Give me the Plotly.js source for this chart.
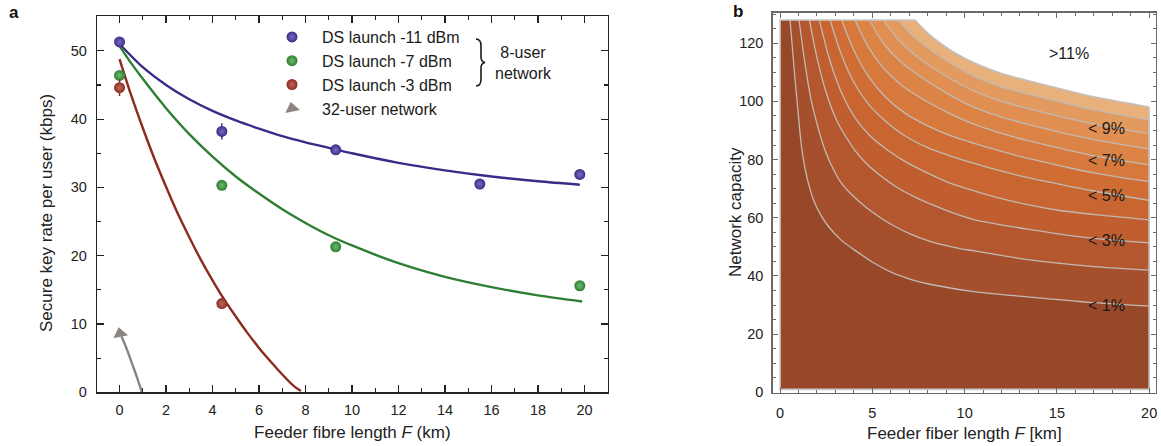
<!DOCTYPE html>
<html>
<head>
<meta charset="utf-8">
<script src="https://cdn.plot.ly/plotly-3.0.1.min.js"></script>
<style>
  html, body { margin: 0; padding: 0; background: #ffffff; }
  #chart { width: 1161px; height: 446px; }
</style>
</head>
<body>
<div id="chart"></div>
<script>
// ---------------- Panel a data ----------------
const blueF = [0, 4.4, 9.3, 15.5, 19.8];
const blueRate = [51.3, 38.2, 35.5, 30.5, 31.9];
const blueErr = [0.3, 1.2, 0.3, 0.3, 0.3];

const greenF = [0, 4.4, 9.3, 19.8];
const greenRate = [46.4, 30.3, 21.3, 15.6];
const greenErr = [0.4, 0.3, 0.3, 0.3];

const redF = [0, 4.4];
const redRate = [44.6, 13.0];
const redErr = [1.2, 0.4];

const blueFitF = [0, 1, 2, 3, 4, 5, 6, 7, 8, 9, 10, 12, 14, 16, 18, 19.8];
const blueFitRate = [51.0, 47.6, 45.0, 42.9, 41.2, 39.8, 38.6, 37.5, 36.6, 35.8, 35.0, 33.6, 32.5, 31.6, 30.9, 30.4];

const greenFitF = [0, 0.5, 1, 1.5, 2, 3, 4, 5, 6, 7, 8, 9, 10, 12, 14, 16, 18, 19.9];
const greenFitRate = [50.7, 48.2, 45.9, 43.7, 41.6, 37.8, 34.5, 31.6, 29.1, 26.8, 24.8, 23.0, 21.5, 18.9, 16.9, 15.4, 14.2, 13.3];

const redFitF = [0, 0.5, 1, 1.5, 2, 2.5, 3, 3.5, 4, 4.5, 5, 5.5, 6, 6.5, 7, 7.5, 7.8];
const redFitRate = [48.8, 43.5, 38.7, 34.2, 30.1, 26.2, 22.7, 19.4, 16.4, 13.6, 11.1, 8.7, 6.5, 4.5, 2.6, 0.9, 0.2];

const net32F = [0.96, 0.75, 0.55, 0.38, 0.22, 0.08];
const net32Rate = [0, 2.2, 4.1, 5.7, 7.1, 8.2];
const net32TipF = [0.02];
const net32TipRate = [8.6];

const seriesNames = ['DS launch -11 dBm', 'DS launch -7 dBm', 'DS launch -3 dBm', '32-user network'];

// ---------------- Panel b data (contour lines) ----------------
const levelLabels = ['< 1%', '< 3%', '< 5%', '< 7%', '< 9%', '>11%'];
const labelF = [17.7, 17.7, 17.7, 17.7, 17.7, 15.65];
const labelN = [29.9, 52.2, 67.7, 79.7, 90.6, 116.5];

const regionF = [0, 20];
const regionN = [1, 128];

const lvl1F = [0.54, 0.75, 0.95, 1.17, 1.35, 1.55, 1.85, 2.2, 2.62, 3.3, 4.06, 5.0, 6.05, 7.2, 8.4, 10.5, 13.4, 17.0, 20.0];
const lvl1N = [128, 112, 98, 84, 77, 71.5, 65.5, 61, 57, 52.4, 48.8, 44.8, 41.2, 38.6, 36.8, 34.6, 32.8, 30.8, 29.6];
const lvl2F = [1.03, 1.35, 1.7, 2.1, 2.44, 2.9, 3.34, 3.9, 4.6, 5.4, 6.23, 7.2, 8.21, 9.75, 10.56, 13.4, 17.0, 20.0];
const lvl2N = [128, 113, 100, 90, 83.1, 76.5, 71.7, 67.8, 63.9, 60.2, 57.0, 54.0, 51.7, 49.4, 48.6, 45.6, 43.2, 42.0];
const lvl3F = [1.59, 2.0, 2.5, 3.1, 3.6, 4.06, 4.7, 5.5, 6.3, 7.31, 8.5, 9.75, 10.56, 13.4, 17.0, 20.0];
const lvl3N = [128, 115, 103, 93, 87.5, 83.1, 78.5, 74.2, 70.6, 67.1, 63.8, 60.8, 59.3, 56.1, 52.9, 51.4];
const lvl4F = [2.13, 2.7, 3.4, 4.1, 4.9, 5.86, 6.8, 7.85, 9.1, 10.56, 12.0, 13.5, 15.16, 17.5, 20.0];
const lvl4N = [128, 114, 102, 94, 88, 83.1, 79.2, 75.8, 72.2, 69.2, 66.6, 64.4, 62.5, 60.8, 59.3];
const lvl5F = [2.71, 3.3, 4.0, 4.8, 5.7, 6.8, 8.03, 9.2, 10.56, 12.0, 13.5, 15.3, 17.0, 20.0];
const lvl5N = [128, 116.5, 106.5, 99.0, 93.3, 88.0, 84.0, 81.3, 78.6, 76.0, 73.7, 71.3, 69.2, 66.0];
const lvl6F = [3.34, 4.0, 4.8, 5.7, 6.8, 8.0, 9.2, 10.56, 12.0, 13.5, 15.3, 17.0, 20.0];
const lvl6N = [128, 117.5, 108.5, 101.5, 95.8, 91.6, 88.3, 85.5, 82.8, 80.3, 77.7, 75.4, 72.4];
const lvl7F = [4.06, 4.8, 5.6, 6.6, 8.0, 9.2, 10.56, 12.0, 13.5, 15.3, 17.0, 20.0];
const lvl7N = [128, 118.5, 111.5, 105.5, 99.8, 95.8, 92.0, 89.0, 86.4, 83.7, 81.3, 78.2];
const lvl8F = [4.83, 5.6, 6.5, 7.5, 8.6, 9.6, 10.56, 12.0, 13.5, 15.3, 17.0, 20.0];
const lvl8N = [128, 120, 113.8, 109, 104.5, 100.8, 97.9, 94.6, 92.0, 89.2, 86.9, 83.7];
const lvl9F = [5.59, 6.4, 7.3, 8.3, 9.4, 10.56, 12.0, 13.5, 15.3, 17.0, 20.0];
const lvl9N = [128, 121.3, 116.0, 111.5, 107.2, 103.4, 100.0, 97.4, 94.6, 92.2, 88.9];
const lvl10F = [6.40, 7.2, 8.1, 9.2, 10.56, 12.0, 13.5, 15.3, 17.0, 20.0];
const lvl10N = [128, 122.6, 118.0, 113.3, 108.5, 105.0, 102.4, 99.6, 97.1, 93.7];
const lvl11F = [7.31, 8.0, 8.8, 9.6, 10.56, 12.0, 13.5, 15.3, 17.0, 20.0];
const lvl11N = [128, 123.5, 119.5, 116.2, 113.1, 109.6, 107.0, 104.2, 101.6, 98.1];

const bandColors = ['#974829', '#a64f2c', '#b4572e', '#c05e2f', '#c96530', '#d06d34',
                    '#d7793d', '#dc8446', '#e08e51', '#e39a5f', '#e8b07b'];

// ---------------- Styles ----------------
const FONT = 'Liberation Sans, Arial, Helvetica, sans-serif';
const C_BLUE = '#3b2b88', C_GREEN = '#2f7f33', C_RED = '#8b2b20', C_GRAY = '#8c8480';
const C_BLUE_L = '#7a6cc4', C_GREEN_L = '#6cbd6f', C_RED_L = '#c46a5d';

const traces = [];

// fit curves (panel a)
function fitLine(x, y, color) {
  return { x: x, y: y, xaxis: 'x', yaxis: 'y', mode: 'lines', type: 'scatter',
           line: { color: color, width: 2.4, shape: 'spline', smoothing: 0.8 },
           showlegend: false, hoverinfo: 'skip' };
}
traces.push(fitLine(blueFitF, blueFitRate, C_BLUE));
traces.push(fitLine(greenFitF, greenFitRate, C_GREEN));
traces.push(fitLine(redFitF, redFitRate, C_RED));
traces.push(fitLine(net32F, net32Rate, C_GRAY));

function pts(x, y, err, color, light, name) {
  return { x: x, y: y, xaxis: 'x', yaxis: 'y', mode: 'markers', type: 'scatter', name: name,
           error_y: { type: 'data', array: err, visible: true, thickness: 1.5, width: 0, color: color },
           marker: { size: 11, color: color, gradient: { type: 'radial', color: light }, line: { width: 0 } } };
}
traces.push(pts(blueF, blueRate, blueErr, C_BLUE, C_BLUE_L, seriesNames[0]));
traces.push(pts(greenF, greenRate, greenErr, C_GREEN, C_GREEN_L, seriesNames[1]));
traces.push(pts(redF, redRate, redErr, C_RED, C_RED_L, seriesNames[2]));
traces.push({ x: net32TipF, y: net32TipRate, xaxis: 'x', yaxis: 'y', mode: 'markers', type: 'scatter',
              name: seriesNames[3], marker: { symbol: 'triangle-up', size: 13, color: C_GRAY, angle: -12 } });

// panel b: filled bands
const lvlF = [lvl1F, lvl2F, lvl3F, lvl4F, lvl5F, lvl6F, lvl7F, lvl8F, lvl9F, lvl10F, lvl11F];
const lvlN = [lvl1N, lvl2N, lvl3N, lvl4N, lvl5N, lvl6N, lvl7N, lvl8N, lvl9N, lvl10N, lvl11N];
for (let k = lvlF.length - 1; k >= 0; k--) {
  traces.push({ x: lvlF[k].concat([regionF[1], regionF[0], regionF[0]]),
                y: lvlN[k].concat([regionN[0], regionN[0], regionN[1]]),
                xaxis: 'x2', yaxis: 'y2', type: 'scatter', mode: 'lines', fill: 'toself',
                fillcolor: bandColors[k], line: { width: 0, color: bandColors[k] },
                showlegend: false, hoverinfo: 'skip' });
}
// contour lines
for (let k = 0; k < lvlF.length - 1; k++) {
  traces.push({ x: lvlF[k], y: lvlN[k], xaxis: 'x2', yaxis: 'y2', type: 'scatter', mode: 'lines',
                line: { color: '#c1bab3', width: 1.3, shape: 'spline', smoothing: 0.9 },
                showlegend: false, hoverinfo: 'skip' });
}
// region outline
const last = lvlF.length - 1;
traces.push({ x: [lvlF[last][lvlF[last].length - 1], regionF[1], regionF[0], regionF[0], lvlF[last][0]],
              y: [lvlN[last][lvlN[last].length - 1], regionN[0], regionN[0], regionN[1], regionN[1]],
              xaxis: 'x2', yaxis: 'y2', type: 'scatter', mode: 'lines',
              line: { color: '#c8c8c8', width: 1.6 }, showlegend: false, hoverinfo: 'skip' });
traces.push({ x: lvlF[last], y: lvlN[last], xaxis: 'x2', yaxis: 'y2', type: 'scatter', mode: 'lines',
              line: { color: '#c4c0bc', width: 1.6, shape: 'spline', smoothing: 0.9 },
              showlegend: false, hoverinfo: 'skip' });

const annotations = [];
for (let i = 0; i < levelLabels.length; i++) {
  annotations.push({ x: labelF[i], y: labelN[i], xref: 'x2', yref: 'y2', text: levelLabels[i],
                     xanchor: 'center', yanchor: 'middle',
                     showarrow: false, font: { family: FONT, size: 16, color: '#1a1a1a' } });
}
annotations.push({ x: 523 / 1161, y: 1 - 63 / 446, xref: 'paper', yref: 'paper', text: '8-user<br>network',
                   xanchor: 'center', yanchor: 'middle',
                   showarrow: false, font: { family: FONT, size: 16, color: '#1a1a1a' } });
annotations.push({ x: 14 / 1161, y: 1 - 13 / 446, xref: 'paper', yref: 'paper', text: '<b>a</b>',
                   xanchor: 'center', yanchor: 'middle',
                   showarrow: false, font: { family: FONT, size: 17, color: '#111' } });
annotations.push({ x: 738 / 1161, y: 1 - 12 / 446, xref: 'paper', yref: 'paper', text: '<b>b</b>',
                   xanchor: 'center', yanchor: 'middle',
                   showarrow: false, font: { family: FONT, size: 17, color: '#111' } });
annotations.push({ x: 735 / 1161, y: 1 - 212 / 446, xref: 'paper', yref: 'paper', text: 'Network capacity',
                   textangle: -90, xanchor: 'center', yanchor: 'middle',
                   showarrow: false, font: { family: FONT, size: 17, color: '#222' } });
annotations.push({ x: 47 / 1161, y: 1 - 213 / 446, xref: 'paper', yref: 'paper', text: 'Secure key rate per user (kbps)',
                   textangle: -90, xanchor: 'center', yanchor: 'middle',
                   showarrow: false, font: { family: FONT, size: 17, color: '#222' } });

// curly brace as a path in paper coordinates
function P(x, y) { return (x / 1161).toFixed(5) + ',' + (1 - y / 446).toFixed(5); }
const bracePath = 'M' + P(476, 39) + ' C' + P(480, 39) + ' ' + P(481, 42) + ' ' + P(481, 46) +
  ' L' + P(481, 57) + ' C' + P(481, 60) + ' ' + P(482, 62) + ' ' + P(485, 62.5) +
  ' C' + P(482, 63) + ' ' + P(481, 65) + ' ' + P(481, 68) +
  ' L' + P(481, 79) + ' C' + P(481, 83) + ' ' + P(480, 86) + ' ' + P(476, 86);

const axA = { showgrid: false, zeroline: false, showline: true, linecolor: '#222', linewidth: 1.3,
              mirror: 'ticks', ticks: 'inside', ticklen: 7, tickwidth: 1.2, tickcolor: '#222',
              tickfont: { family: FONT, size: 14.5, color: '#222' } };
const axB = { showgrid: false, zeroline: false, showline: true, linecolor: '#6a6a6a', linewidth: 1.4,
              mirror: 'ticks', ticks: 'inside', ticklen: 5, tickwidth: 1.1, tickcolor: '#6a6a6a',
              tickfont: { family: FONT, size: 14.5, color: '#222' } };

const layout = {
  width: 1161, height: 446,
  margin: { l: 0, r: 0, t: 0, b: 0 },
  paper_bgcolor: '#ffffff', plot_bgcolor: 'rgba(0,0,0,0)',
  font: { family: FONT, size: 14, color: '#222' },
  xaxis: Object.assign({}, axA, {
    domain: [97 / 1161, 607.7 / 1161], range: [-0.97, 21.0], anchor: 'y',
    tickmode: 'linear', tick0: 0, dtick: 2, ticklabelstandoff: 4,
    minor: { dtick: 1, ticks: 'inside', ticklen: 4, tickwidth: 1.2, tickcolor: '#222' },
    title: { text: 'Feeder fibre length <i>F</i> (km)', font: { family: FONT, size: 17, color: '#222' }, standoff: 9 }
  }),
  yaxis: Object.assign({}, axA, {
    domain: [1 - 392.3 / 446, 1 - 16 / 446], range: [0, 55.1], anchor: 'x',
    tickmode: 'linear', tick0: 0, dtick: 10, ticklabelstandoff: 6,
    minor: { dtick: 5, ticks: 'inside', ticklen: 4, tickwidth: 1.2, tickcolor: '#222' }
  }),
  xaxis2: Object.assign({}, axB, {
    domain: [772.7 / 1161, 1156 / 1161], range: [-0.4, 20.37], anchor: 'y2',
    tickmode: 'linear', tick0: 0, dtick: 5, ticklabelstandoff: 6,
    minor: { dtick: 1, ticks: 'inside', ticklen: 3, tickwidth: 1, tickcolor: '#6a6a6a' },
    title: { text: 'Feeder fiber length <i>F</i> [km]', font: { family: FONT, size: 17, color: '#222' }, standoff: 7 }
  }),
  yaxis2: Object.assign({}, axB, {
    domain: [1 - 392.7 / 446, 1 - 12.7 / 446], range: [-0.14, 130.5], anchor: 'x2',
    tickmode: 'linear', tick0: 0, dtick: 20, ticklabelstandoff: 5,
    minor: { dtick: 5, ticks: 'inside', ticklen: 3, tickwidth: 1, tickcolor: '#6a6a6a' }
  }),
  legend: { x: 262 / 1161, y: 1 - 20 / 446, xanchor: 'left', yanchor: 'top', itemwidth: 50,
            bgcolor: 'rgba(0,0,0,0)', borderwidth: 0, tracegroupgap: 0,
            font: { family: FONT, size: 16, color: '#1a1a1a' } },
  showlegend: true,
  annotations: annotations,
  shapes: [{ type: 'path', xref: 'paper', yref: 'paper', path: bracePath,
             line: { color: '#1a1a1a', width: 1.6 } }]
};

Plotly.newPlot('chart', traces, layout, { displayModeBar: false, staticPlot: true });
</script>
</body>
</html>
